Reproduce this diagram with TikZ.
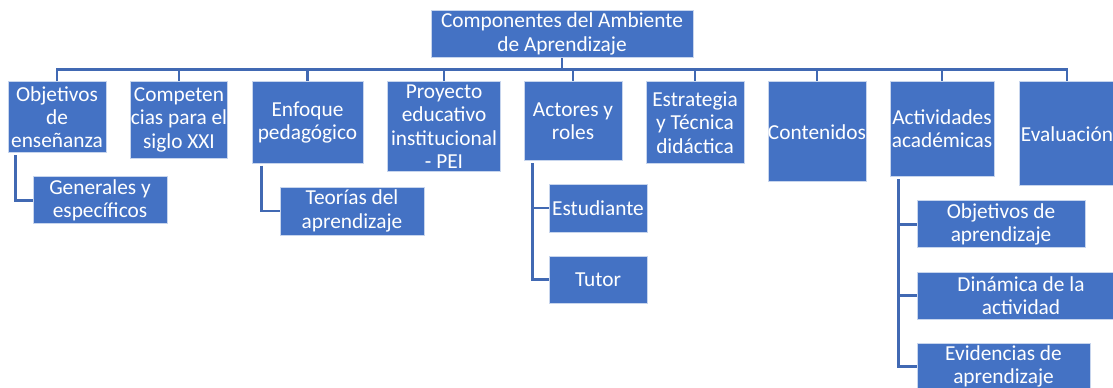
\documentclass[tikz,border=0pt]{standalone}
\usepackage{fontspec}
\setmainfont{Carlito}
\usepackage{xcolor}
\usepackage{tikz}
\usetikzlibrary{calc}
\definecolor{cajazul}{HTML}{4472C4}
\definecolor{lineazul}{HTML}{4169B3}
\tikzset{
	bloque/.style 2 args={draw=white!70!cajazul, line width=0.6pt, fill=cajazul,
		text=white, align=center, inner sep=0pt, minimum width=#1, minimum height=#2,
		font=\fontsize{16}{17.5}\selectfont},
	enlace/.style={draw=lineazul, line width=1.9pt},
}

\begin{document}
\begin{tikzpicture}[x=0.75pt, y=-0.75pt]
	\path[fill=white, use as bounding box] (0,0) rectangle (1113,388);
	\clip (0,0) rectangle (1113,388);
	% raiz y primer nivel
	\node[bloque={196.5pt}{35.25pt}] (raiz) at (562,34) {Componentes del Ambiente\\de Aprendizaje};
	\node[bloque={73.5pt}{53.25pt}] (obj) at (57,117.2) {Objetivos\\de\\enseñanza};
	\node[bloque={73.1pt}{57.2pt}] (comp) at (179,119.9) {Competen\\cias para el\\siglo XXI};
	\node[bloque={83.25pt}{61.2pt}] (enf) at (307.5,122.5) {Enfoque\\pedagógico};
	\node[bloque={84.4pt}{67.5pt}] (pei) at (444,126.7) {Proyecto\\educativo\\institucional\\- PEI};
	\node[bloque={73.5pt}{59.25pt}] (act) at (573,121.2) {Actores y\\roles};
	\node[bloque={73.5pt}{61.2pt}] (est) at (695,122.5) {Estrategia\\y Técnica\\didáctica};
	\node[bloque={73.5pt}{75pt}] (cont) at (817,131.7) {Contenidos};
	\node[bloque={78pt}{70.7pt}] (acad) at (942,128.8) {Actividades\\académicas};
	\node[bloque={72pt}{78pt}] (eva) at (1067,133.7) {Evaluación};
	% segundo nivel
	\node[bloque={100.5pt}{35.25pt}] (gen) at (100,200.3) {Generales y\\específicos};
	\node[bloque={108pt}{36pt}] (teo) at (352,211) {Teorías del\\aprendizaje};
	\node[bloque={73.5pt}{36pt}] (estu) at (598,208) {Estudiante};
	\node[bloque={73.5pt}{35.25pt}] (tut) at (598,279.5) {Tutor};
	\node[bloque={126pt}{35.25pt}] (oba) at (1001,224.3) {Objetivos de\\aprendizaje};
	\node[bloque={156pt}{35.25pt}] (din) at (1021,295.5) {Dinámica de la\\actividad};
	\node[bloque={129.75pt}{35.25pt}] (evi) at (1003.5,366.5) {Evidencias de\\aprendizaje};
	% conectores
	\coordinate (barra) at (0,69.3);
	\draw[enlace] (raiz.south) -- (raiz.south |- barra);
	\draw[enlace] (obj.north) -- (obj.north |- barra) -- (eva.north |- barra) -- (eva.north);
	\foreach \n in {comp,enf,pei,act,est,cont,acad}
		\draw[enlace] (\n.north |- barra) -- (\n.north);
	\draw[enlace] ($(obj.south west)+(8,2)$) |- (gen.west);
	\draw[enlace] ($(enf.south west)+(10,2)$) |- (teo.west);
	\draw[enlace] ($(act.south west)+(9,2)$) coordinate (tronco) |- (tut.west);
	\draw[enlace] (tronco |- estu.west) -- (estu.west);
	\draw[enlace] ($(acad.south west)+(9,3)$) coordinate (tronco) |- (evi.west);
	\foreach \n in {oba,din}
		\draw[enlace] (tronco |- \n.west) -- (\n.west);
\end{tikzpicture}
\end{document}
